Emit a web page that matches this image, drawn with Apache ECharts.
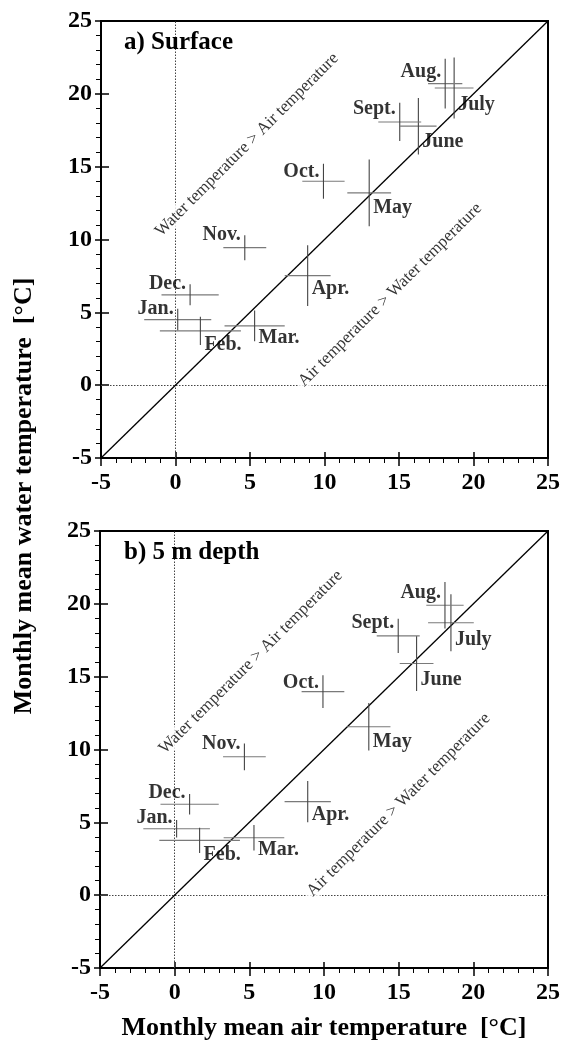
<!DOCTYPE html>
<html><head><meta charset="utf-8">
<script src="https://cdn.jsdelivr.net/npm/echarts@6/dist/echarts.min.js"></script>
<style>html,body{margin:0;padding:0;background:#fff}#c{width:563px;height:1046px}</style>
</head><body><div id="c"></div>
<script>
// ---- data ----
const months = ['Jan.','Feb.','Mar.','Apr.','May','June','July','Aug.','Sept.','Oct.','Nov.','Dec.'];
// a) Surface
const airA      = [0.15, 1.67, 5.31, 8.87, 13.0, 16.3, 18.7, 18.1, 15.05, 9.93, 4.65, 0.98];
const waterA    = [4.5, 3.73, 4.07, 7.52, 13.2, 17.78, 20.4, 20.7, 18.07, 14.0, 9.44, 6.2];
const airErrA   = [2.25, 2.72, 2.02, 1.54, 1.47, 1.22, 1.3, 1.15, 1.44, 1.42, 1.44, 1.92];
const waterErrA = [0.74, 0.97, 1.06, 2.09, 2.29, 1.94, 2.1, 1.7, 1.31, 1.2, 0.86, 0.72];
// b) 5 m depth
const airB      = [0.13, 1.67, 5.31, 8.91, 13.0, 16.2, 18.5, 18.1, 14.97, 9.93, 4.67, 1.0];
const waterB    = [4.56, 3.76, 3.94, 6.42, 11.56, 15.9, 18.7, 19.9, 17.8, 13.97, 9.5, 6.24];
const airErrB   = [2.23, 2.7, 2.03, 1.55, 1.45, 1.13, 1.53, 1.25, 1.44, 1.43, 1.43, 1.95];
const waterErrB = [0.6, 0.86, 0.88, 1.41, 1.63, 1.89, 1.95, 1.6, 1.18, 1.12, 0.92, 0.71];
// 1:1 line and annotations
const diag = [-5, 25];
const panelTitles = ['a) Surface', 'b) 5 m depth'];
const noteTexts = ['Water temperature > Air temperature', 'Air temperature > Water temperature'];
const notePosA = [[4.8, 16.5], [14.4, 6.2]];
const notePosB = [[5.1, 16.0], [15.0, 6.2]];
const xTitle = 'Monthly mean air temperature  [°C]';
const yTitle = 'Monthly mean water temperature  [°C]';
const axisMin = -5, axisMax = 25, axisStep = 5;

// ---- styles ----
const SERIF = '"Liberation Serif","DejaVu Serif",serif';
const labelStyle = {
  'Jan.': ['left', -11], 'Feb.': ['right', 14], 'Mar.': ['right', 12], 'Apr.': ['right', 13],
  'May': ['right', 15], 'June': ['right', 16], 'July': ['right', 17], 'Aug.': ['left', -12],
  'Sept.': ['left', -13], 'Oct.': ['left', -9], 'Nov.': ['left', -13], 'Dec.': ['left', -11]
};

const chart = echarts.init(document.getElementById('c'), null, {renderer: 'canvas'});

const grids = [
  {left: 101, top: 21, width: 450, height: 437, show: true, borderColor: '#000', borderWidth: 2, backgroundColor: 'transparent'},
  {left: 100, top: 531, width: 451, height: 437, show: true, borderColor: '#000', borderWidth: 2, backgroundColor: 'transparent'}
];

function mainX(g, withName) {
  const ax = {
    type: 'value', gridIndex: g, position: 'bottom', min: axisMin, max: axisMax, interval: axisStep,
    axisLine: {show: true, onZero: false, lineStyle: {color: '#000', width: 2}},
    axisTick: {show: true, inside: false, length: 8, lineStyle: {color: '#000', width: 1.5}},
    minorTick: {show: true, splitNumber: 5, length: 5, lineStyle: {color: '#000', width: 1}},
    splitLine: {show: false},
    axisLabel: {color: '#000', fontFamily: SERIF, fontWeight: 'bold', fontSize: 24, margin: 13}
  };
  if (withName) {
    ax.name = xTitle; ax.nameLocation = 'middle'; ax.nameGap = 47;
    ax.nameTextStyle = {color: '#000', fontFamily: SERIF, fontWeight: 'bold', fontSize: 26};
  }
  return ax;
}
function innerX(g) {
  return {type: 'value', gridIndex: g, position: 'bottom', min: axisMin, max: axisMax, interval: axisStep,
    axisLine: {show: false, onZero: false}, axisTick: {show: true, inside: true, length: 6, lineStyle: {color: '#000', width: 1.5}},
    axisLabel: {show: false}, splitLine: {show: false}};
}
function mainY(g) {
  return {
    type: 'value', gridIndex: g, position: 'left', min: axisMin, max: axisMax, interval: axisStep,
    axisLine: {show: true, onZero: false, lineStyle: {color: '#000', width: 2}},
    axisTick: {show: true, inside: false, length: 6, lineStyle: {color: '#000', width: 1.5}},
    minorTick: {show: true, splitNumber: 5, length: 5, lineStyle: {color: '#000', width: 1}},
    splitLine: {show: false},
    axisLabel: {color: '#000', fontFamily: SERIF, fontWeight: 'bold', fontSize: 24, margin: 9}
  };
}
function innerY(g) {
  return {type: 'value', gridIndex: g, position: 'left', min: axisMin, max: axisMax, interval: axisStep,
    axisLine: {show: false, onZero: false}, axisTick: {show: true, inside: true, length: 8, lineStyle: {color: '#000', width: 1.5}},
    axisLabel: {show: false}, splitLine: {show: false}};
}

function crossSeries(xi, yi, air, water, ea, ew) {
  return {
    type: 'custom', xAxisIndex: xi, yAxisIndex: yi, z: 5,
    data: air.map((v, i) => [v, water[i], ea[i], ew[i]]),
    renderItem: function (params, api) {
      const x = api.value(0), y = api.value(1), ex = api.value(2), ey = api.value(3);
      const l = api.coord([x - ex, y]), r = api.coord([x + ex, y]);
      const t = api.coord([x, y + ey]), b = api.coord([x, y - ey]);
      return {type: 'group', children: [
        {type: 'line', shape: {x1: l[0], y1: l[1], x2: r[0], y2: r[1]}, style: {stroke: '#7a7a7a', lineWidth: 1.1}},
        {type: 'line', shape: {x1: t[0], y1: t[1], x2: b[0], y2: b[1]}, style: {stroke: '#444', lineWidth: 1.1}}
      ]};
    }
  };
}
function labelSeries(xi, yi, air, water) {
  return {
    type: 'scatter', xAxisIndex: xi, yAxisIndex: yi, symbolSize: 0, z: 6, silent: true,
    data: air.map((v, i) => {
      const st = labelStyle[months[i]];
      return {value: [v, water[i]], name: months[i],
        label: {show: true, position: st[0], distance: 4, offset: [0, st[1]]}};
    }),
    label: {formatter: p => p.name, color: '#000', fontFamily: SERIF, fontWeight: 'bold', fontSize: 20}
  };
}
function diagSeries(xi, yi) {
  return {
    type: 'line', xAxisIndex: xi, yAxisIndex: yi, z: 4, symbol: 'none', silent: true,
    data: [[diag[0], diag[0]], [diag[1], diag[1]]],
    lineStyle: {color: '#000', width: 1.3},
    markLine: {silent: true, symbol: 'none', label: {show: false}, z: 1,
      lineStyle: {color: '#444', width: 1, type: [1.5, 1.5]},
      data: [{xAxis: 0}, {yAxis: 0}]}
  };
}
function noteSeries(xi, yi, pos) {
  return {
    type: 'scatter', xAxisIndex: xi, yAxisIndex: yi, symbolSize: 0, z: 3, silent: true,
    data: pos.map((p, i) => ({value: p, name: noteTexts[i]})),
    label: {show: true, position: 'inside', rotate: 45, formatter: p => p.name,
      color: '#000', fontFamily: SERIF, fontSize: 17, backgroundColor: '#fff', padding: [0, 3]}
  };
}

const option = {
  animation: false,
  backgroundColor: '#fff',
  grid: grids,
  xAxis: [mainX(0, false), mainX(1, true), innerX(0), innerX(1)],
  yAxis: [mainY(0), mainY(1), innerY(0), innerY(1)],
  title: [
    {text: panelTitles[0], left: 119, top: 25, textStyle: {color: '#000', fontFamily: SERIF, fontWeight: 'bold', fontSize: 25}},
    {text: panelTitles[1], left: 119, top: 535, textStyle: {color: '#000', fontFamily: SERIF, fontWeight: 'bold', fontSize: 25}}
  ],
  graphic: [{
    type: 'text', x: 24, y: 496, rotation: Math.PI / 2, z: 10,
    style: {text: yTitle, fill: '#000', font: 'bold 26px ' + SERIF, align: 'center', verticalAlign: 'middle'}
  }],
  series: [
    diagSeries(0, 0), noteSeries(0, 0, notePosA), crossSeries(0, 0, airA, waterA, airErrA, waterErrA), labelSeries(0, 0, airA, waterA),
    diagSeries(1, 1), noteSeries(1, 1, notePosB), crossSeries(1, 1, airB, waterB, airErrB, waterErrB), labelSeries(1, 1, airB, waterB)
  ]
};
chart.setOption(option);
</script>
</body></html>
